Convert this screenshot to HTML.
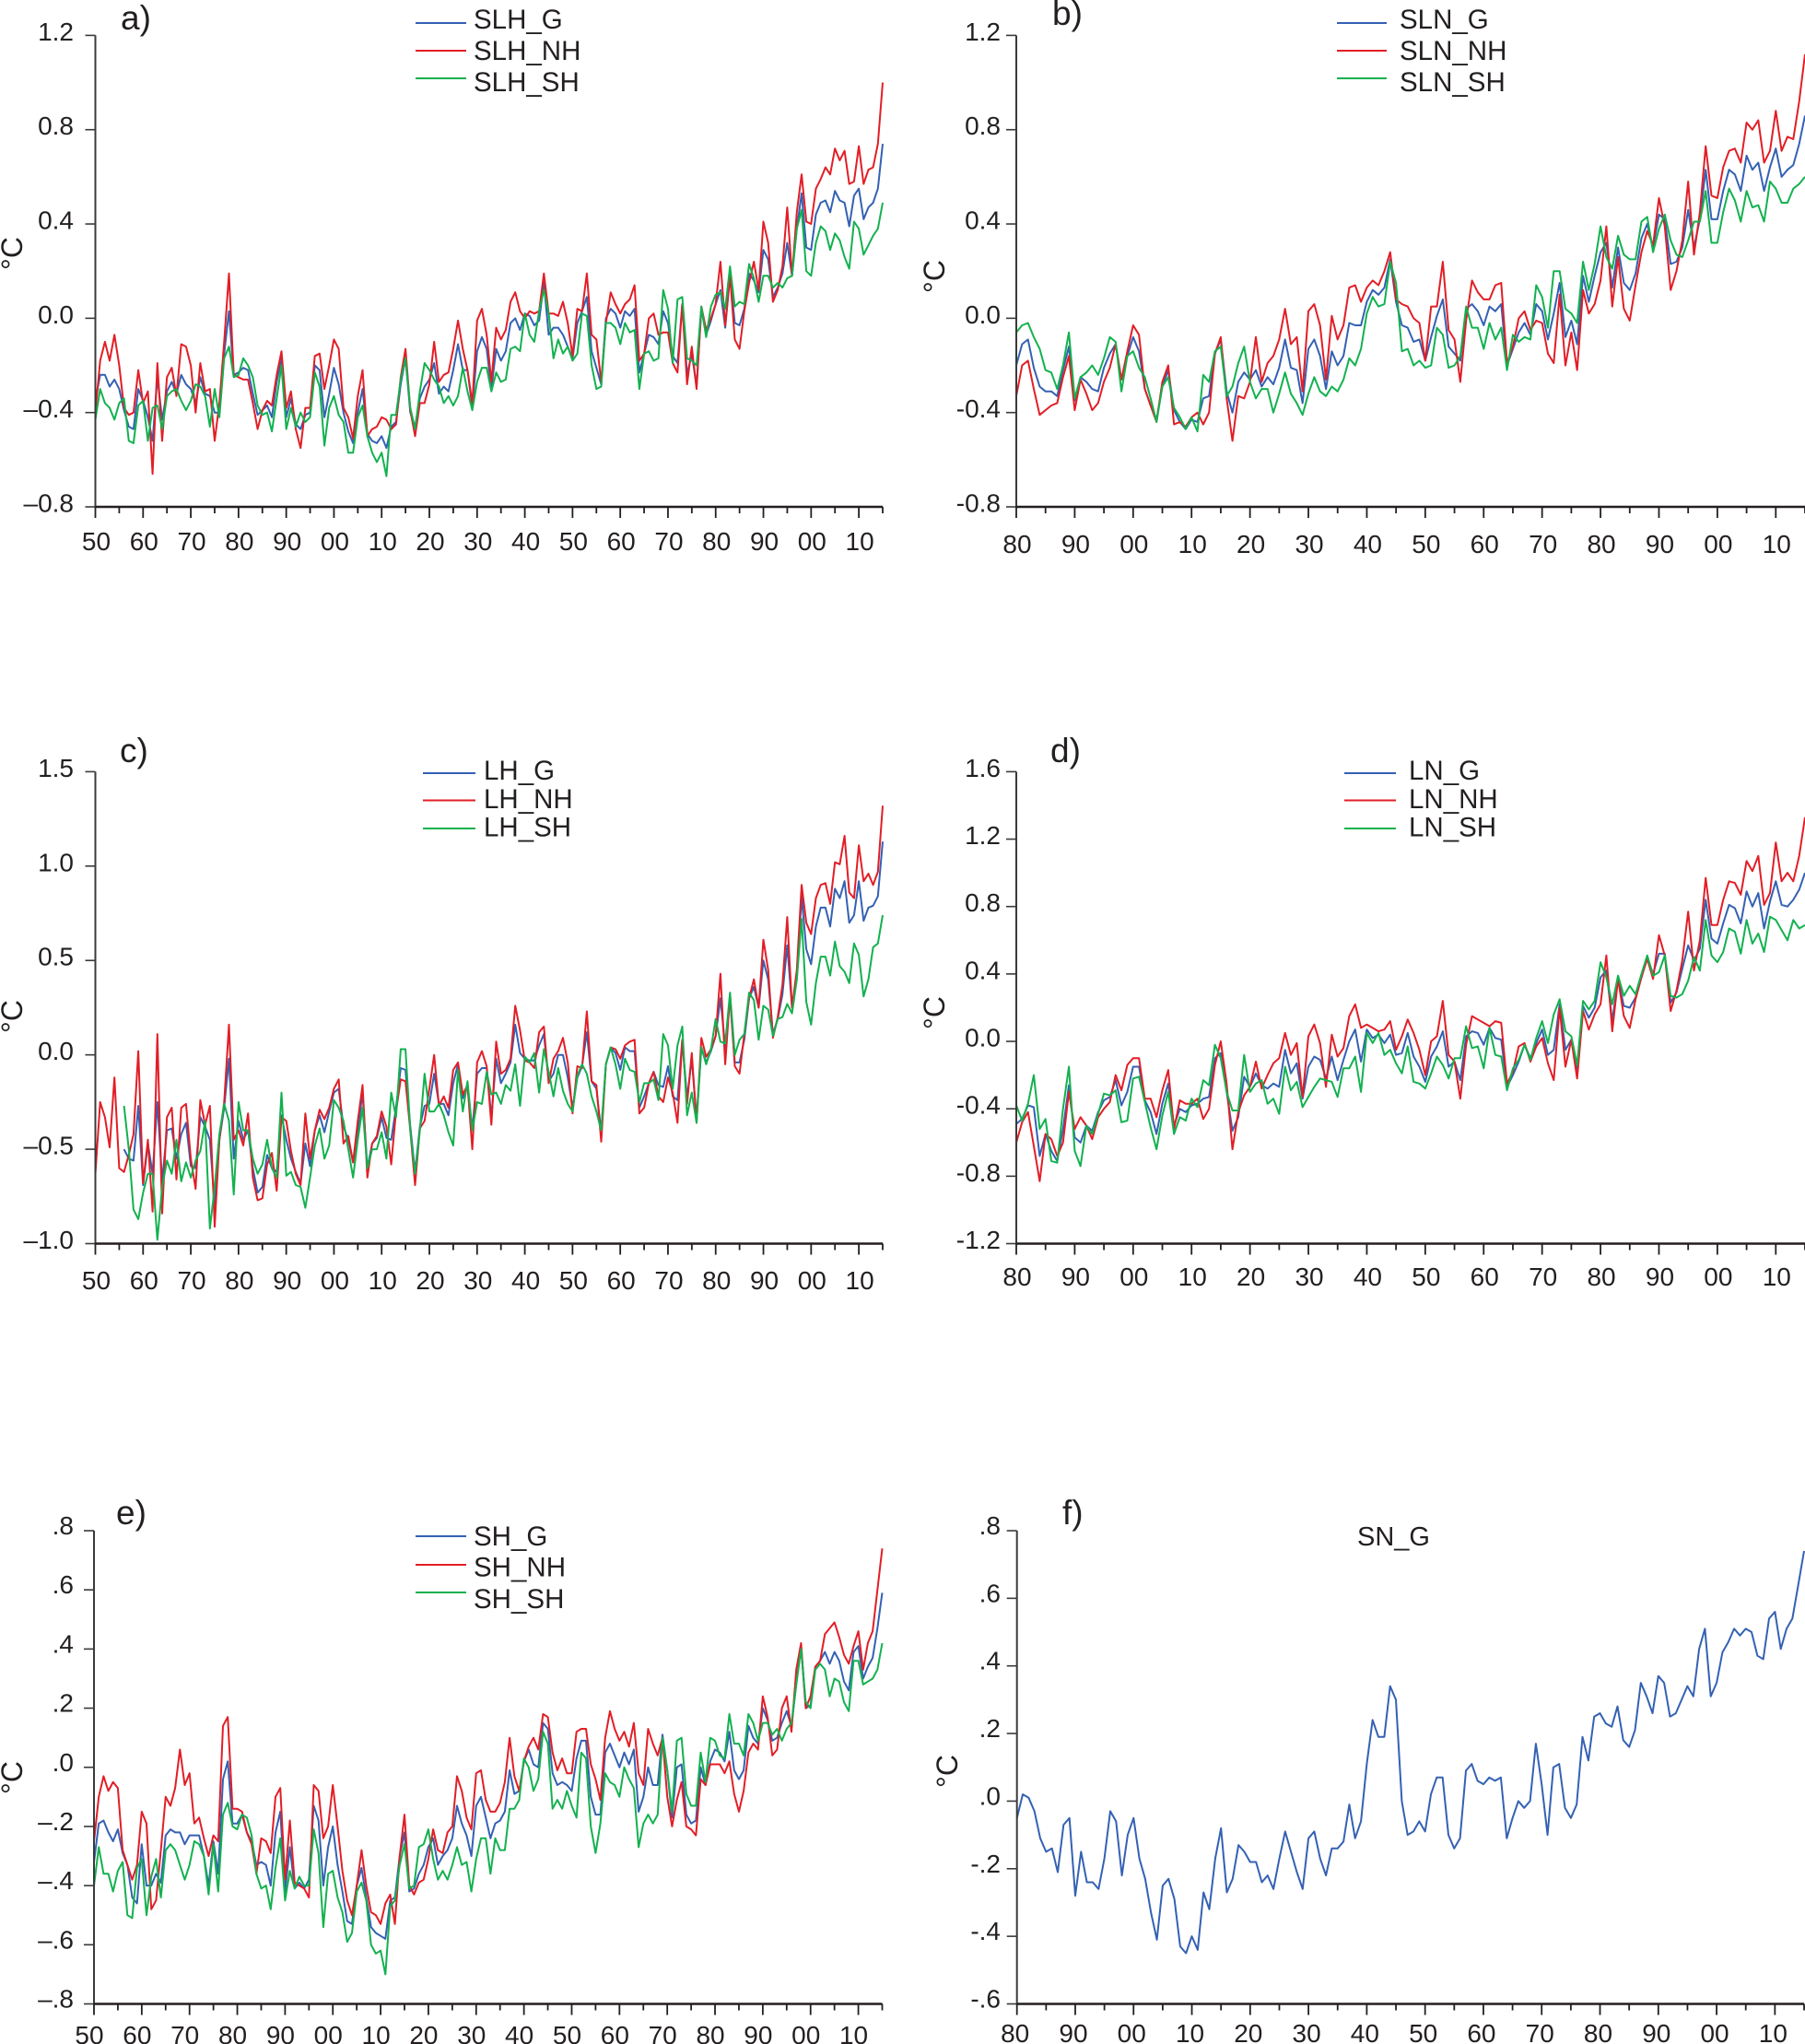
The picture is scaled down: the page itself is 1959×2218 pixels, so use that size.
<!DOCTYPE html>
<html lang="en">
<head>
<meta charset="utf-8">
<title>Temperature anomaly panels</title>
<style>
html,body{margin:0;padding:0;background:#fff;}
svg{display:block;}
text{font-family:"Liberation Sans",sans-serif;fill:#231f20;}
</style>
</head>
<body>
<svg id="chart" xmlns="http://www.w3.org/2000/svg" width="1959" height="2218" viewBox="0 0 1959 2218"></svg>
<script>
// Values are anomalies in hundredths of a degree C, one per year.
const xLabelsLong = ['50','60','70','80','90','00','10','20','30','40','50','60','70','80','90','00','10'];
const xLabelsShort = ['80','90','00','10','20','30','40','50','60','70','80','90','00','10'];
const yTicksA = [1.2,0.8,0.4,0,-0.4,-0.8];
const yLabelsA = ['1.2','0.8','0.4','0.0','–0.4','–0.8'];
const yTicksB = [1.2,0.8,0.4,0,-0.4,-0.8];
const yLabelsB = ['1.2','0.8','0.4','0.0','-0.4','-0.8'];
const yTicksC = [1.5,1,0.5,0,-0.5,-1];
const yLabelsC = ['1.5','1.0','0.5','0.0','–0.5','–1.0'];
const yTicksD = [1.6,1.2,0.8,0.4,0,-0.4,-0.8,-1.2];
const yLabelsD = ['1.6','1.2','0.8','0.4','0.0','-0.4','-0.8','-1.2'];
const yTicksE = [0.8,0.6,0.4,0.2,0,-0.2,-0.4,-0.6,-0.8];
const yLabelsE = ['.8','.6','.4','.2','.0','–.2','–.4','–.6','–.8'];
const yTicksF = [0.8,0.6,0.4,0.2,0,-0.2,-0.4,-0.6];
const yLabelsF = ['.8','.6','.4','.2','.0','-.2','-.4','-.6'];

const slhG = [
-35,-24,-24,-29,-26,-30,-39,-46,-47,-30,
-35,-42,-52,-25,-43,-31,-27,-32,-24,-28,
-30,-36,-25,-32,-33,-40,-40,-15,3,-24,
-23,-21,-22,-32,-41,-39,-37,-42,-27,-17,
-42,-34,-45,-47,-41,-40,-20,-22,-42,-32,
-21,-28,-40,-48,-53,-40,-30,-49,-52,-53,
-50,-55,-46,-44,-28,-17,-40,-46,-34,-29,
-26,-19,-32,-29,-31,-22,-11,-22,-22,-38,
-14,-8,-13,-30,-13,-18,-14,-2,0,-5,
2,1,-3,-1,15,-7,-4,-4,-7,-12,
-17,-2,3,9,-14,-21,-28,0,4,2,
-4,3,1,4,-23,-15,-7,-8,-11,3,
-2,-16,-19,6,-24,-15,-29,4,-7,-1,
6,12,-4,18,-2,-3,4,19,16,11,
29,25,9,13,19,32,18,38,53,30,
29,44,49,50,45,54,50,49,39,52,
55,42,47,49,55,74];
const slhNH = [
-40,-18,-10,-18,-7,-20,-38,-41,-40,-22,
-36,-31,-66,-19,-52,-25,-21,-33,-11,-12,
-20,-40,-19,-31,-30,-52,-36,-10,19,-24,
-25,-26,-26,-36,-47,-39,-35,-37,-24,-14,
-38,-31,-47,-55,-38,-38,-16,-15,-30,-20,
-9,-13,-38,-42,-51,-33,-22,-50,-47,-46,
-42,-43,-47,-45,-25,-13,-39,-50,-36,-36,
-28,-10,-27,-24,-23,-13,-1,-13,-22,-36,
-1,4,-7,-27,-4,-9,-5,7,11,3,
0,3,2,3,19,2,2,1,7,-2,
-16,4,3,19,-7,-9,-27,-2,11,6,
2,6,8,14,-18,-15,0,2,-7,-6,
-6,-19,-23,6,-28,-12,-30,5,-5,0,
6,24,-3,18,-9,-13,3,15,24,12,
41,32,7,12,22,47,18,45,61,41,
40,55,59,64,61,72,67,71,57,58,
73,57,63,64,74,100];
const slhSH = [
-43,-30,-36,-38,-43,-36,-34,-52,-53,-37,
-35,-52,-38,-37,-47,-33,-31,-30,-35,-39,
-35,-28,-29,-33,-46,-30,-42,-17,-12,-25,
-24,-17,-20,-25,-37,-41,-40,-48,-34,-20,
-47,-38,-46,-40,-44,-42,-23,-29,-54,-38,
-33,-41,-44,-57,-57,-42,-37,-50,-57,-61,
-57,-67,-41,-41,-26,-17,-38,-47,-31,-19,
-22,-26,-29,-36,-33,-37,-33,-21,-31,-39,
-27,-21,-21,-31,-23,-27,-26,-13,-12,-14,
2,-7,-10,3,12,2,-17,-9,-15,-12,
-18,-15,2,1,-20,-30,-29,-2,-2,-4,
-11,-2,-6,-5,-30,-15,-14,-18,-17,12,
4,-19,8,9,-17,-18,-20,5,-8,5,
10,11,4,22,5,7,6,23,17,7,
18,18,13,15,13,17,18,38,46,20,
18,32,39,37,29,36,33,26,21,41,
38,27,31,35,38,49];

const slnG = [
-20,-11,-9,-21,-29,-31,-31,-33,-22,-12,
-35,-25,-27,-30,-31,-21,-15,-11,-26,-16,
-8,-14,-30,-37,-43,-29,-22,-39,-44,-47,
-43,-44,-34,-33,-15,-9,-31,-40,-27,-23,
-26,-22,-29,-25,-28,-21,-9,-21,-22,-36,
-13,-9,-16,-30,-14,-20,-16,-2,-3,-3,
7,12,10,13,25,7,-3,-4,-10,-9,
-18,-8,1,8,-12,-15,-18,4,6,3,
-3,5,3,6,-20,-13,-6,-2,-7,6,
3,-9,2,15,-8,-1,-11,18,7,18,
28,32,13,30,15,12,19,34,40,30,
44,42,23,24,30,46,30,42,63,42,
42,54,63,61,54,69,63,66,54,64,
72,60,63,65,74,86];
const slnNH = [
-33,-20,-18,-30,-41,-39,-37,-36,-25,-16,
-39,-26,-32,-39,-36,-27,-21,-11,-26,-14,
-3,-7,-30,-37,-44,-27,-20,-45,-44,-46,
-42,-40,-45,-40,-15,-8,-34,-52,-33,-34,
-27,-8,-27,-19,-16,-9,4,-11,-8,-31,
3,6,-3,-26,1,-9,-3,13,14,7,
13,16,14,20,28,8,6,5,0,-2,
-18,5,5,24,-5,-9,-27,-1,16,11,
8,8,14,15,-19,-12,0,3,-5,-1,
-2,-15,-19,10,-20,-6,-22,12,2,6,
16,39,5,26,4,-1,14,28,37,31,
51,39,12,20,33,58,27,45,73,52,
51,64,71,72,66,83,80,84,66,71,
88,71,77,76,92,112];
const slnSH = [
-6,-3,-2,-8,-13,-22,-23,-30,-20,-6,
-34,-25,-23,-20,-24,-17,-8,-10,-31,-16,
-14,-21,-25,-34,-44,-29,-25,-38,-42,-47,
-42,-48,-24,-27,-14,-12,-33,-29,-19,-12,
-27,-34,-30,-30,-40,-32,-23,-32,-36,-41,
-32,-25,-31,-33,-29,-31,-26,-17,-20,-13,
2,9,5,6,24,15,-14,-13,-20,-18,
-21,-20,-4,-7,-21,-20,-16,5,-4,-4,
-13,-2,-9,-4,-22,-7,-10,-8,-9,14,
9,-4,20,20,4,2,-2,24,12,23,
39,26,21,35,27,25,25,41,43,28,
38,44,33,27,26,33,41,41,54,32,
32,45,55,50,41,54,47,48,41,58,
55,49,49,55,57,60];

const lhG = [
null,null,null,null,null,null,-50,-55,-56,-27,
-69,-47,-63,-25,-67,-40,-39,-55,-42,-36,
-59,-60,-33,-38,-45,-80,-45,-28,-2,-55,
-35,-45,-40,-60,-73,-70,-53,-60,-62,-32,
-45,-55,-62,-68,-47,-59,-40,-32,-41,-30,
-20,-18,-38,-45,-57,-40,-20,-60,-47,-44,
-33,-44,-45,-28,-7,-8,-38,-62,-38,-27,
-26,-10,-26,-26,-32,-15,-5,-23,-17,-40,
-10,-7,-7,-33,-2,-15,-10,-4,16,1,
-2,-3,-3,5,11,-14,-10,0,0,-12,
-28,-12,-6,12,-14,-18,-41,-5,4,1,
-8,4,2,2,-28,-22,-15,-9,-16,-17,
-6,-22,-24,8,-23,-2,-34,4,-4,2,
10,30,4,30,-4,-4,8,30,36,25,
50,40,11,19,32,58,25,40,84,56,
48,68,78,78,68,88,83,92,70,74,
92,71,78,79,84,113];
const lhNH = [
-63,-25,-33,-49,-12,-60,-62,-53,-42,2,
-68,-45,-83,11,-84,-33,-28,-66,-28,-26,
-55,-71,-24,-37,-27,-91,-45,-25,16,-45,
-40,-48,-31,-65,-77,-76,-58,-52,-72,-33,
-35,-51,-63,-69,-31,-55,-40,-29,-34,-28,
-18,-13,-47,-43,-57,-35,-16,-65,-47,-43,
-30,-38,-58,-30,-13,-14,-40,-69,-39,-35,
-18,0,-27,-22,-28,-8,-4,-21,-16,-50,
-4,2,-6,-37,7,-10,-8,-2,26,13,
-3,-4,-7,12,15,-15,-2,2,9,-4,
-31,-6,-7,23,-14,-16,-46,-5,4,3,
-2,5,7,8,-31,-28,-15,-9,-22,-25,
-12,-20,-36,8,-26,1,-36,9,-1,3,
10,43,-5,32,-6,-10,11,30,40,25,
61,45,9,20,37,73,25,45,90,70,
64,83,90,91,80,102,101,116,86,83,
111,92,96,90,97,132];
const lhSH = [
null,null,null,null,null,null,-27,-50,-82,-87,
-73,-63,-63,-98,-70,-56,-63,-45,-67,-57,
-65,-56,-51,-35,-92,-70,-42,-26,-35,-74,
-25,-40,-40,-55,-63,-58,-45,-60,-65,-20,
-64,-62,-69,-70,-81,-65,-48,-39,-55,-48,
-24,-28,-35,-50,-65,-45,-28,-60,-50,-50,
-41,-55,-20,-33,3,3,-40,-63,-40,-10,
-30,-30,-26,-32,-41,-48,-8,-30,-14,-40,
-25,-26,-9,-21,-20,-26,-16,-19,-5,-27,
-1,-4,1,-20,3,-9,-22,-7,-19,-26,
-30,-11,-5,-10,-22,-30,-40,-5,4,-5,
-18,-2,-8,-9,-25,-15,-15,-13,-24,11,
5,-18,5,15,-32,-20,-36,4,-5,3,
19,7,6,33,0,8,11,33,29,8,
26,24,10,19,20,27,22,40,72,28,
16,38,52,52,42,60,47,44,38,59,
53,31,40,57,59,74];

const lnG = [
-49,-46,-38,-39,-68,-55,-65,-71,-52,-26,
-57,-60,-50,-53,-42,-35,-33,-23,-38,-30,
-15,-15,-35,-42,-55,-37,-25,-50,-40,-42,
-38,-37,-34,-33,-10,-7,-30,-53,-45,-21,
-27,-19,-26,-28,-25,-27,-5,-19,-13,-34,
-15,-9,-11,-22,-9,-23,-11,0,7,-12,
7,2,4,-1,4,-8,-7,5,-9,-15,
-24,-9,-3,6,-15,-12,-23,3,6,5,
-2,8,2,1,-27,-20,-12,-2,-10,-1,
7,-8,-5,22,-5,1,-18,21,14,20,
38,42,12,37,21,20,26,38,50,40,
52,52,23,29,43,57,48,55,84,61,
58,70,81,79,70,89,80,88,67,83,
95,81,80,84,90,100];
const lnNH = [
-60,-48,-42,-62,-83,-55,-58,-68,-60,-30,
-52,-45,-50,-58,-45,-40,-36,-20,-29,-14,
-10,-10,-34,-34,-45,-29,-17,-52,-35,-37,
-37,-34,-46,-40,-14,0,-25,-64,-42,-32,
-27,-12,-28,-20,-13,-10,5,-8,-1,-33,
3,10,-1,-27,4,-9,-4,15,22,8,
10,8,6,7,12,-5,3,13,5,-5,
-20,0,3,24,-8,-12,-34,-2,15,13,
11,9,12,11,-25,-18,-3,-1,-12,-3,
2,-13,-23,20,-15,1,-22,18,7,16,
22,51,6,37,15,8,25,38,49,37,
63,51,18,30,48,77,42,60,97,69,
69,84,95,94,87,107,101,110,81,88,
118,95,100,95,110,133];
const lnSH = [
-38,-47,-37,-20,-52,-46,-71,-72,-40,-15,
-65,-74,-50,-55,-43,-31,-32,-29,-48,-47,
-22,-21,-36,-51,-64,-44,-30,-55,-45,-47,
-34,-39,-23,-26,-2,-10,-30,-41,-41,-8,
-30,-25,-23,-37,-34,-43,-15,-29,-24,-39,
-33,-27,-22,-23,-24,-33,-16,-16,-9,-30,
5,-1,5,-8,-5,-13,-19,-3,-24,-25,
-28,-19,-9,-14,-22,-10,-10,9,-4,-3,
-16,8,-8,-9,-29,-16,-11,-2,-11,2,
12,-1,16,25,6,3,-14,24,19,24,
47,38,22,39,27,33,28,40,51,39,
41,51,27,26,28,36,50,42,72,51,
47,53,67,65,52,72,58,64,53,74,
72,66,60,72,67,69];

const shG = [
-32,-19,-18,-22,-25,-21,-29,-33,-44,-46,
-26,-40,-40,-36,-39,-23,-21,-22,-22,-26,
-23,-23,-23,-30,-40,-25,-36,-4,2,-19,
-19,-16,-22,-25,-33,-32,-33,-40,-22,-15,
-42,-27,-41,-39,-41,-38,-13,-18,-40,-27,
-20,-33,-42,-52,-53,-40,-34,-44,-54,-56,
-57,-58,-45,-44,-30,-22,-42,-41,-36,-33,
-27,-24,-33,-30,-28,-24,-13,-19,-23,-30,
-13,-10,-17,-24,-19,-18,-15,-1,-9,-8,
2,6,1,0,15,13,-2,-6,-5,-6,
-8,3,9,9,-10,-16,-16,5,8,4,
0,5,1,6,-15,-10,0,-6,-6,11,
-1,-17,0,1,-16,-19,-18,0,-6,2,
6,5,2,12,-1,-4,-1,14,10,8,
20,16,9,10,15,19,14,28,41,20,
21,34,36,39,35,39,36,29,26,39,
41,30,34,37,47,59];
const shNH = [
-25,-10,-3,-8,-5,-7,-28,-33,-38,-33,
-15,-19,-48,-45,-28,-10,-13,-7,6,-6,
-2,-19,-17,-24,-30,-23,-25,14,17,-14,
-14,-15,-22,-26,-36,-24,-25,-29,-10,-7,
-38,-18,-39,-40,-41,-44,-6,-8,-24,-20,
-6,-20,-35,-45,-50,-40,-28,-40,-49,-50,
-53,-46,-43,-53,-30,-16,-40,-43,-39,-38,
-31,-21,-28,-29,-22,-20,-3,-8,-17,-21,
-2,-1,-11,-15,-15,-12,-5,10,-3,-8,
2,7,10,6,18,17,5,-1,3,-2,
-2,12,13,13,1,-4,-11,10,19,13,
9,12,7,15,-2,-6,13,8,4,10,
-10,-20,-11,-5,-20,-21,-23,-4,-6,1,
1,1,-2,2,-9,-15,-8,5,8,6,
24,17,4,6,20,24,12,33,42,20,
24,34,36,45,47,49,44,38,35,41,
46,33,42,46,60,74];
const shSH = [
-40,-27,-36,-36,-42,-35,-32,-50,-51,-34,
-31,-50,-37,-31,-44,-28,-26,-28,-33,-38,
-33,-25,-26,-30,-43,-26,-42,-16,-12,-20,
-21,-16,-17,-23,-36,-41,-40,-48,-34,-24,
-45,-35,-41,-37,-40,-40,-21,-29,-54,-36,
-35,-44,-49,-59,-56,-42,-39,-45,-60,-63,
-62,-70,-47,-45,-33,-26,-41,-40,-27,-26,
-21,-31,-38,-35,-38,-33,-27,-33,-32,-42,
-31,-24,-24,-36,-24,-28,-28,-14,-14,-11,
3,0,-8,-4,12,8,-14,-11,-14,-8,
-13,-17,5,3,-20,-29,-19,-2,-5,-6,
-10,0,-4,-7,-27,-19,-16,-19,-16,10,
-1,-15,9,10,-9,-13,-13,5,-5,10,
9,4,3,18,8,8,4,18,15,9,
15,15,11,13,9,13,15,28,40,22,
20,33,35,33,24,30,29,22,19,36,
36,28,29,30,33,42];

const snG = [
-5,2,1,-3,-11,-15,-14,-21,-7,-5,
-28,-15,-24,-24,-26,-17,-3,-6,-22,-10,
-5,-17,-23,-33,-41,-25,-23,-29,-43,-45,
-40,-44,-27,-32,-17,-8,-27,-23,-13,-15,
-18,-18,-24,-22,-26,-17,-9,-15,-21,-26,
-11,-9,-17,-22,-14,-14,-12,-1,-11,-6,
11,24,19,19,34,30,0,-10,-9,-6,
-9,2,7,7,-10,-14,-11,9,11,6,
5,7,6,7,-11,-5,0,-2,0,17,
5,-10,10,11,-2,-5,-1,19,12,25,
26,23,22,28,18,16,21,35,31,26,
37,35,25,26,30,34,31,45,51,31,
35,44,47,51,49,51,50,43,42,54,
56,45,51,54,64,74];

const NS = 'http://www.w3.org/2000/svg';
const BLUE = '#3461b3', RED = '#e21e26', GREEN = '#13b14f', INK = '#231f20';
const root = document.getElementById('chart');

function make(parent, tag, attrs, name) {
  const el = document.createElementNS(NS, tag);
  for (const k in attrs) el.setAttribute(k, attrs[k]);
  
  
  parent.appendChild(el);
  return el;
}
function label(parent, x, y, str, size, anchor, name) {
  const t = make(parent, 'text', {x: x, y: y, 'font-size': size, 'text-anchor': anchor}, name);
  t.textContent = str;
  return t;
}

function drawPanel(cfg) {
  const g = make(root, 'g', {}, 'panel-' + cfg.id);
  const xScale = yr => cfg.x0 + (yr - cfg.startYear) * (cfg.x1 - cfg.x0) / (2015 - cfg.startYear);
  const yScale = v => cfg.yTop + (cfg.vTop - v) * (cfg.yBot - cfg.yTop) / (cfg.vTop - cfg.vBot);

  // series
  cfg.series.forEach(s => {
    const pts = [];
    s.values.forEach((v, i) => {
      if (v !== null) pts.push(xScale(cfg.startYear + i).toFixed(1) + ',' + yScale(v / 100).toFixed(1));
    });
    make(g, 'polyline', {points: pts.join(' '), fill: 'none', stroke: s.color, 'stroke-width': 2, 'stroke-linejoin': 'round'}, 'series-' + s.name.toLowerCase().replace('_', '-'));
  });

  // axes
  make(g, 'line', {x1: cfg.x0, y1: cfg.yTop, x2: cfg.x0, y2: cfg.yBot + 1, stroke: '#3a3a3a', 'stroke-width': 2}, 'y-axis');
  make(g, 'line', {x1: cfg.x0, y1: cfg.yBot, x2: cfg.x1, y2: cfg.yBot, stroke: INK, 'stroke-width': 2.4}, 'x-axis');

  cfg.yTicks.forEach((v, i) => {
    const y = yScale(v);
    make(g, 'line', {x1: cfg.x0 - 11, y1: y, x2: cfg.x0, y2: y, stroke: '#3a3a3a', 'stroke-width': 1.6}, 'y-tick');
    label(g, cfg.yLabelX, y + cfg.yLabelDy, cfg.yLabels[i], 28, 'end', 'y-tick-label');
  });

  for (let yr = cfg.startYear; yr <= 2015; yr += 5) {
    const major = (yr - cfg.startYear) % 10 === 0;
    const x = xScale(yr);
    make(g, 'line', {x1: x, y1: cfg.yBot, x2: x, y2: cfg.yBot + (major ? 12 : 7), stroke: INK, 'stroke-width': 1.8}, major ? 'x-tick-major' : 'x-tick-minor');
  }
  cfg.xLabels.forEach((s, i) => {
    label(g, xScale(cfg.startYear + i * 10) + cfg.xLabelDx, cfg.xLabelY, s, 28, 'middle', 'x-tick-label');
  });

  // unit label
  const u = label(g, 0, 0, '°C', 32, 'middle', 'y-axis-title');
  u.setAttribute('transform', 'translate(' + cfg.unitX + ',' + cfg.unitY + ') rotate(-90)');

  // panel letter
  label(g, cfg.letterX, cfg.letterY, cfg.id + ')', 37, 'start', 'panel-letter');

  // legend
  if (cfg.legend) {
    const lg = make(g, 'g', {}, 'legend');
    cfg.series.forEach((s, i) => {
      make(lg, 'line', {x1: cfg.legend.x0, y1: cfg.legend.lineY[i], x2: cfg.legend.x1, y2: cfg.legend.lineY[i], stroke: s.color, 'stroke-width': 2}, 'legend-line');
      label(lg, cfg.legend.textX, cfg.legend.textY[i], s.name, 29.5, 'start', 'legend-entry');
    });
  } else {
    label(g, cfg.titleX, cfg.titleY, cfg.title, 29, 'start', 'series-title');
  }
}

drawPanel({id:'a', startYear:1850, x0:103.5, x1:958, yTop:38.4, yBot:550, vTop:1.2, vBot:-0.8,
  yTicks:yTicksA, yLabels:yLabelsA, yLabelX:80, yLabelDy:5.5, xLabels:xLabelsLong, xLabelDx:1, xLabelY:597,
  unitX:24, unitY:275, letterX:131, letterY:32,
  series:[{name:'SLH_G',values:slhG,color:BLUE},{name:'SLH_NH',values:slhNH,color:RED},{name:'SLH_SH',values:slhSH,color:GREEN}],
  legend:{x0:451,x1:506,textX:514,lineY:[25,55,85],textY:[31,65,99]}});
drawPanel({id:'b', startYear:1880, x0:1103, x1:1959, yTop:38.4, yBot:550, vTop:1.2, vBot:-0.8,
  yTicks:yTicksB, yLabels:yLabelsB, yLabelX:1086, yLabelDy:5.5, xLabels:xLabelsShort, xLabelDx:1, xLabelY:600,
  unitX:1025, unitY:300, letterX:1142, letterY:27,
  series:[{name:'SLN_G',values:slnG,color:BLUE},{name:'SLN_NH',values:slnNH,color:RED},{name:'SLN_SH',values:slnSH,color:GREEN}],
  legend:{x0:1451,x1:1505,textX:1519,lineY:[25,55,85],textY:[31,65,99]}});
drawPanel({id:'c', startYear:1850, x0:103.5, x1:958, yTop:837.4, yBot:1349.5, vTop:1.5, vBot:-1.0,
  yTicks:yTicksC, yLabels:yLabelsC, yLabelX:80, yLabelDy:5.5, xLabels:xLabelsLong, xLabelDx:1, xLabelY:1399,
  unitX:24, unitY:1103, letterX:130, letterY:827,
  series:[{name:'LH_G',values:lhG,color:BLUE},{name:'LH_NH',values:lhNH,color:RED},{name:'LH_SH',values:lhSH,color:GREEN}],
  legend:{x0:459,x1:516,textX:525,lineY:[839,868.5,899],textY:[846,877,907.5]}});
drawPanel({id:'d', startYear:1880, x0:1103, x1:1959, yTop:837.4, yBot:1349.5, vTop:1.6, vBot:-1.2,
  yTicks:yTicksD, yLabels:yLabelsD, yLabelX:1086, yLabelDy:5.5, xLabels:xLabelsShort, xLabelDx:1, xLabelY:1395,
  unitX:1025, unitY:1099, letterX:1140, letterY:827,
  series:[{name:'LN_G',values:lnG,color:BLUE},{name:'LN_NH',values:lnNH,color:RED},{name:'LN_SH',values:lnSH,color:GREEN}],
  legend:{x0:1459,x1:1515,textX:1529,lineY:[839,868.5,899],textY:[846,877,907.5]}});
drawPanel({id:'e', startYear:1850, x0:102, x1:957.5, yTop:1661, yBot:2174.5, vTop:0.8, vBot:-0.8,
  yTicks:yTicksE, yLabels:yLabelsE, yLabelX:80, yLabelDy:4, xLabels:xLabelsLong, xLabelDx:-5, xLabelY:2218,
  unitX:24, unitY:1929, letterX:126, letterY:1654,
  series:[{name:'SH_G',values:shG,color:BLUE},{name:'SH_NH',values:shNH,color:RED},{name:'SH_SH',values:shSH,color:GREEN}],
  legend:{x0:451,x1:506,textX:514,lineY:[1667,1698,1728],textY:[1677,1710.5,1745]}});
drawPanel({id:'f', startYear:1880, x0:1103.7, x1:1958, yTop:1661, yBot:2174.5, vTop:0.8, vBot:-0.6,
  yTicks:yTicksF, yLabels:yLabelsF, yLabelX:1086, yLabelDy:4, xLabels:xLabelsShort, xLabelDx:-2, xLabelY:2216,
  unitX:1039, unitY:1922, letterX:1153, letterY:1654,
  series:[{name:'SN_G',values:snG,color:BLUE}],
  title:'SN_G', titleX:1473, titleY:1677});
</script>
</body>
</html>
